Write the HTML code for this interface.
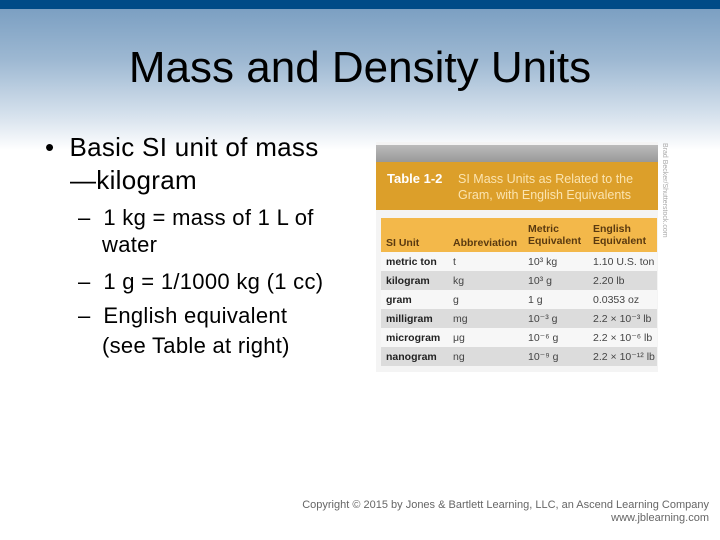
<!DOCTYPE html>
<html><head><meta charset="utf-8"><style>
body{margin:0;width:720px;height:540px;position:relative;overflow:hidden;font-family:"Liberation Sans",sans-serif;background:#fff}
.abs{position:absolute}
.bg{left:0;top:0;width:720px;height:540px;background:linear-gradient(to bottom,#7b9fc2 8px,#9db8d2 60px,#dbe5ef 120px,#fff 150px,#fff)}
.bar{left:0;top:0;width:720px;height:9px;background:#004b87}
h1{position:absolute;left:0;width:720px;top:43px;margin:0;text-align:center;font-weight:normal;font-size:44px;color:#000}
.t{position:absolute;color:#000;white-space:nowrap}
.b1{font-size:26px;letter-spacing:0.3px;line-height:33px;height:33px}
.b2{font-size:22px;letter-spacing:0.3px;line-height:28px;height:28px}
.row{position:absolute;left:381px;width:276px;height:19px;font-size:10.5px;color:#444}
.row span{position:absolute;top:4px}
.row b{position:absolute;top:4px;left:5px;color:#222}
</style></head><body>
<div class="abs bg"></div>
<div class="abs bar"></div>
<h1>Mass and Density Units</h1>
<div class="t b1" style="left:45px;top:131px">•&nbsp; Basic SI unit of mass</div>
<div class="t b1" style="left:70px;top:164px">—kilogram</div>
<div class="t b2" style="left:78px;top:204px">–&nbsp; 1 kg = mass of 1 L of</div>
<div class="t b2" style="left:102px;top:231px">water</div>
<div class="t b2" style="left:78px;top:268px">–&nbsp; 1 g = 1/1000 kg (1 cc)</div>
<div class="t b2" style="left:78px;top:302px">–&nbsp; English equivalent</div>
<div class="t b2" style="left:102px;top:332px">(see Table at right)</div>
<div class="abs" style="left:376px;top:142px;width:282px;height:230px;background:#f4f4f4"></div>
<div class="abs" style="left:376px;top:145px;width:282px;height:17px;background:linear-gradient(#bbb,#999)"></div>
<div class="abs" style="left:376px;top:162px;width:282px;height:48px;background:#dc9f2a">
<span class="abs" style="left:11px;top:9px;color:#fff;font-weight:bold;font-size:13px">Table 1-2</span>
<span class="abs" style="left:82px;top:9px;color:#fbe4b0;font-size:12.5px;line-height:16px">SI Mass Units as Related to the<br>Gram, with English Equivalents</span></div>
<div class="abs" style="left:381px;top:218px;width:276px;height:34px;background:#f3b84a;font-size:10.5px;color:#5a3a10;font-weight:bold">
<span class="abs" style="left:5px;top:19px">SI Unit</span>
<span class="abs" style="left:72px;top:19px">Abbreviation</span>
<span class="abs" style="left:147px;top:5px">Metric<br>Equivalent</span>
<span class="abs" style="left:212px;top:5px">English<br>Equivalent</span></div>
<div id="rows"></div>
<div class="abs" style="left:661px;top:143px;font-size:7px;color:#aaa;writing-mode:vertical-rl">Brad Becker/Shutterstock.com</div>
<div class="abs" style="left:300px;top:499px;width:409px;text-align:right;font-size:11px;color:#666;line-height:13px">Copyright © 2015 by Jones &amp; Bartlett Learning, LLC, an Ascend Learning Company<br>www.jblearning.com</div>
<script>
const units=["metric ton","kilogram","gram","milligram","microgram","nanogram"];
const abbr=["t","kg","g","mg","μg","ng"];
const metric=["10³ kg","10³ g","1 g","10⁻³ g","10⁻⁶ g","10⁻⁹ g"];
const english=["1.10 U.S. ton","2.20 lb","0.0353 oz","2.2 × 10⁻³ lb","2.2 × 10⁻⁶ lb","2.2 × 10⁻¹² lb"];
const c=document.getElementById('rows');
units.forEach((u,i)=>{
const r=document.createElement('div');
r.className='row';


r.style.top=(252+i*19)+'px';
r.style.background=i%2?'#dcdcdc':'#f7f7f7';
r.innerHTML='<b>'+u+'</b><span style="left:72px">'+abbr[i]+'</span><span style="left:147px">'+metric[i]+'</span><span style="left:212px">'+english[i]+'</span>';
c.appendChild(r);
});
</script>
</body></html>
